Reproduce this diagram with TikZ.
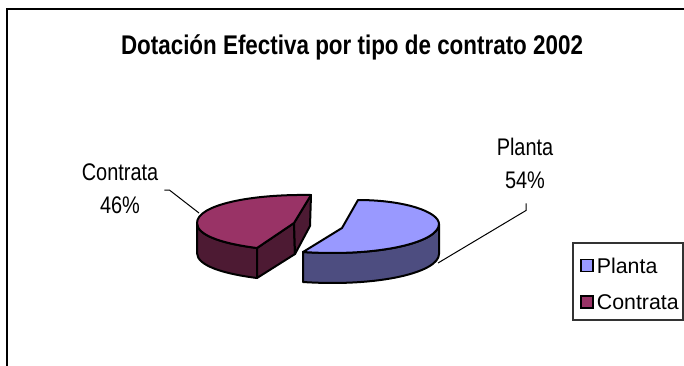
\documentclass[tikz,border=0pt]{standalone}
\usepackage{fontspec}
\usetikzlibrary{positioning}
\setmainfont{Liberation Sans}
\newfontfamily\narrowsans[FakeStretch=0.83]{Liberation Sans}
\definecolor{plantatop}{RGB}{153,153,255}
\definecolor{plantaside}{RGB}{77,77,128}
\definecolor{contratatop}{RGB}{153,51,102}
\definecolor{contrataside}{RGB}{77,26,51}
\tikzset{every picture/.style={line width=0.75pt}}
\tikzset{
  slice/.style={line width=1.5, line join=round},
  leader/.style={line width=0.75},
  pielabel/.style={font=\narrowsans\fontsize{18}{24.75}\selectfont, align=center, inner sep=2pt},
  legendkey/.style={draw, line width=1.1, minimum size=9pt, inner sep=0pt},
  legendtext/.style={font=\fontsize{16}{18}\selectfont, inner sep=1pt, anchor=west},
}

\begin{document}
\begin{tikzpicture}[x=0.75pt,y=0.75pt,yscale=-1,xscale=1]
\useasboundingbox (0,0) rectangle (684,365);

%Chart area frame
\draw [line width=1.2] (7,367) -- (7,9) -- (686,9) ;

% Text Node
\node [font=\narrowsans\bfseries\fontsize{20.25}{24}\selectfont, anchor=base] (title) at (352,54) {Dotación Efectiva por tipo de contrato 2002};

%Shape: Contrata outer side
\draw [slice, fill=contrataside] (257,248) .. controls (225,244) and (197,236) .. (197,223) -- (197,253) .. controls (197,266) and (225,274) .. (257,278) -- cycle ;
%Shape: Contrata cut faces
\draw [slice, fill=contrataside] (257,248) -- (294,223) -- (295,254) -- (257,278) -- cycle ;
\draw [slice, fill=contrataside] (294,223) -- (311,195) -- (310,226) -- (295,254) -- cycle ;
%Shape: Contrata top
\draw [slice, fill=contratatop] (257,248) .. controls (225,244) and (197,236) .. (197,223) .. controls (197,205) and (250,194) .. (311,195) -- (294,223) -- cycle ;

%Shape: Planta outer side
\draw [slice, fill=plantaside] (303,252) .. controls (380,257) and (439,242) .. (439,224) -- (439,254) .. controls (439,272) and (380,287) .. (303,282) -- cycle ;
%Shape: Planta top
\draw [slice, fill=plantatop] (303,252) -- (342,228) -- (358,200) .. controls (405,200) and (439,212) .. (439,224) .. controls (439,242) and (380,257) .. (303,252) -- cycle ;

% Text Node
\node [pielabel] (contratalabel) at (120,189) {Contrata\\46\%};
% Text Node
\node [pielabel] (plantalabel) at (525,163) {Planta\\54\%};

%Leader lines
\coordinate (contratatip) at (199,213);
\coordinate (plantatip) at (438,263);
\draw [leader] (contratalabel.east) ++(3,1) -- ++(5,0) -- (contratatip) ;
\draw [leader] (plantalabel.south) ++(1,12) -- ++(0,7) -- (plantatip) ;

%Legend
\draw [line width=0.9, draw=black!80] (573,243) rectangle (683,320) ;
\node [legendkey, fill=plantatop] (plantakey) at (587,265.5) {};
\node [legendtext, right=1pt of plantakey] (plantaentry) {Planta};
\node [legendkey, fill=contratatop] (contratakey) at (587,302) {};
\node [legendtext, right=1pt of contratakey] (contrataentry) {Contrata};

\end{tikzpicture}
\end{document}
